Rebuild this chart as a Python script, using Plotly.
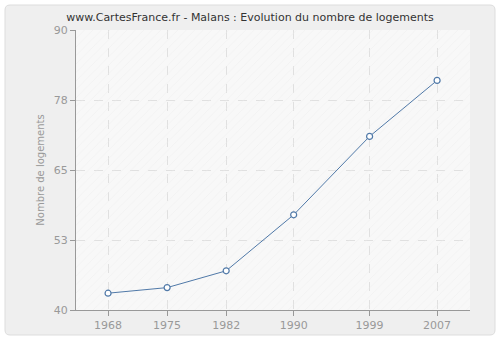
import plotly.graph_objects as go

years = [1968, 1975, 1982, 1990, 1999, 2007]
logements = [43, 44, 47, 57, 71, 81]
y_tick_values = [40, 52.5, 65, 77.5, 90]
y_tick_labels = ["40", "53", "65", "78", "90"]

title = "www.CartesFrance.fr - Malans : Evolution du nombre de logements"
y_title = "Nombre de logements"

LINE = "#5079a8"
AXIS = "#999999"
GRID = "#e0e0e0"

fig = go.Figure()

# hatched plot background on a hidden base axis pair spanning the plot area;
# transparent between the hatch strokes so the grid stays visible
fig.add_trace(go.Scatter(
    x=[0, 1, 1, 0, 0], y=[0, 0, 1, 1, 0],
    xaxis="x", yaxis="y",
    mode="lines", line=dict(width=0),
    fill="toself", fillcolor="rgba(0,0,0,0)",
    fillpattern=dict(shape="/", fgcolor="#ececec", bgcolor="rgba(0,0,0,0)",
                     size=6, solidity=0.15),
    hoverinfo="skip", showlegend=False,
))

# data series on the visible overlay axes
fig.add_trace(go.Scatter(
    x=years, y=logements,
    xaxis="x2", yaxis="y2",
    mode="lines+markers",
    line=dict(color=LINE, width=1),
    marker=dict(symbol="circle", size=6, color="white",
                line=dict(color=LINE, width=1.2)),
    showlegend=False,
))

# rounded outer panel in paper coordinates (plot area is 394 x 280 px)
px, py = 1 / 394, 1 / 280
x0, x1 = -71 * px, 1 + 25 * px
y0, y1 = -25 * py, 1 + 25 * py
rx, ry = 5 * px, 5 * py
panel = (f"M {x0 + rx},{y0} L {x1 - rx},{y0} Q {x1},{y0} {x1},{y0 + ry} "
         f"L {x1},{y1 - ry} Q {x1},{y1} {x1 - rx},{y1} "
         f"L {x0 + rx},{y1} Q {x0},{y1} {x0},{y1 - ry} "
         f"L {x0},{y0 + ry} Q {x0},{y0} {x0 + rx},{y0} Z")

fig.update_layout(
    width=500, height=340,
    margin=dict(l=76, r=30, t=30, b=30, autoexpand=False),
    paper_bgcolor="white",
    plot_bgcolor="#f8f8f8",
    title=dict(text=title, x=0.5, xanchor="center", y=0.95, yanchor="middle",
               font=dict(family="DejaVu Sans", size=11, color="#333333")),
    font=dict(family="DejaVu Sans", size=11, color=AXIS),
    xaxis=dict(range=[0, 1], visible=False, fixedrange=True),
    yaxis=dict(range=[0, 1], visible=False, fixedrange=True),
    xaxis2=dict(
        overlaying="x", side="bottom",
        range=[1964.2, 2010.9], tickvals=years,
        showgrid=True, gridcolor=GRID, griddash="dash", gridwidth=1,
        showline=True, linecolor=AXIS, linewidth=1,
        ticks="outside", ticklen=5, tickcolor=AXIS,
        zeroline=False, tickfont=dict(color=AXIS, size=11),
    ),
    yaxis2=dict(
        overlaying="y", side="left",
        range=[40, 90], tickvals=y_tick_values, ticktext=y_tick_labels,
        showgrid=True, gridcolor=GRID, griddash="dash", gridwidth=1,
        showline=True, linecolor=AXIS, linewidth=1,
        ticks="outside", ticklen=5, tickcolor=AXIS,
        zeroline=False, tickfont=dict(color=AXIS, size=11),
        title=dict(text=y_title, font=dict(size=10, color=AXIS), standoff=7),
    ),
    shapes=[
        dict(type="path", xref="paper", yref="paper", layer="below",
             path=panel,
             fillcolor="#efefef", line=dict(color="#dddddd", width=1)),
        # light plot-area background drawn over the panel
        dict(type="rect", xref="paper", yref="paper", layer="below",
             x0=0, x1=1, y0=0, y1=1,
             fillcolor="#f8f8f8", line=dict(width=0)),
    ],
)

fig.write_html("out.html")
